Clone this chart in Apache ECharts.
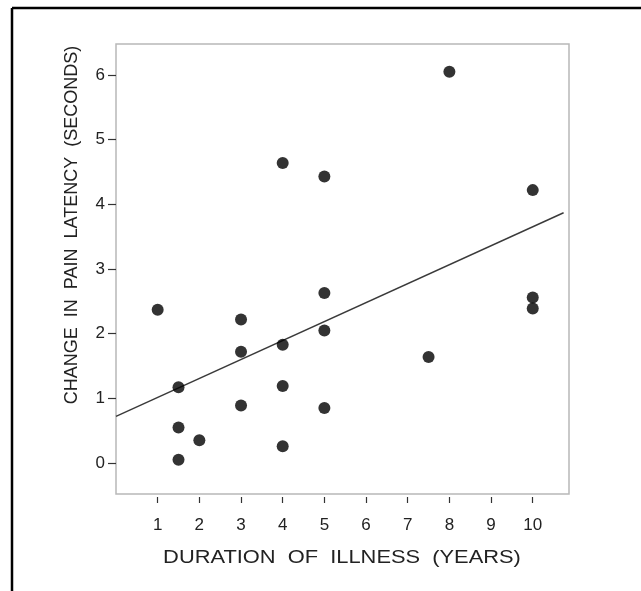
<!DOCTYPE html>
<html>
<head>
<meta charset="utf-8">
<script src="https://cdn.jsdelivr.net/npm/echarts@6/dist/echarts.min.js"></script>
<style>html,body{margin:0;padding:0;background:#fff;}#c{width:641px;height:591px;}</style>
</head>
<body>
<div id="c"></div>
<script>
// Data
var durationYears = [1, 1.5, 1.5, 1.5, 2, 3, 3, 3, 4, 4, 4, 4, 5, 5, 5, 5, 7.5, 8, 10, 10, 10];
var latencyChange = [2.37, 1.17, 0.55, 0.05, 0.35, 2.22, 1.72, 0.89, 4.64, 1.83, 1.19, 0.26, 4.43, 2.63, 2.05, 0.85, 1.64, 6.05, 4.22, 2.56, 2.39];
var fitLineX = [0, 10.74];
var fitLineY = [0.72, 3.87];
var xTicks = [1, 2, 3, 4, 5, 6, 7, 8, 9, 10];
var yTicks = [0, 1, 2, 3, 4, 5, 6];
var xTitle = 'DURATION  OF  ILLNESS  (YEARS)';
var yTitle = 'CHANGE  IN  PAIN  LATENCY  (SECONDS)';

var points = durationYears.map(function (x, i) { return [x, latencyChange[i]]; });
var fit = fitLineX.map(function (x, i) { return [x, fitLineY[i]]; });

var FONT = '"Liberation Sans", Arial, sans-serif';
var chart = echarts.init(document.getElementById('c'), null, { renderer: 'canvas' });
chart.setOption({
  backgroundColor: '#ffffff',
  animation: false,
  grid: {
    left: 116, top: 44, right: 72, bottom: 97,
    show: true, borderColor: '#b8b8b8', borderWidth: 1.5, backgroundColor: 'transparent'
  },
  xAxis: {
    type: 'value', min: 0, max: 10.87, offset: 3, position: 'bottom',
    axisLine: { show: false, onZero: false },
    splitLine: { show: false },
    axisTick: { show: true, length: 6, customValues: xTicks, lineStyle: { color: '#333', width: 1.2 } },
    axisLabel: { customValues: xTicks, margin: 20, color: '#222', fontSize: 17, fontFamily: FONT }
  },
  yAxis: {
    type: 'value', min: -0.48, max: 6.48, position: 'left',
    axisLine: { show: false, onZero: false },
    splitLine: { show: false },
    axisTick: { show: true, length: 8, customValues: yTicks, lineStyle: { color: '#333', width: 1.2 } },
    axisLabel: { customValues: yTicks, margin: 11, color: '#222', fontSize: 17, fontFamily: FONT }
  },
  series: [
    {
      type: 'line', data: fit, showSymbol: false, symbol: 'none',
      lineStyle: { color: '#3a3a3a', width: 1.4 }, z: 2
    },
    {
      type: 'scatter', data: points, symbol: 'circle', symbolSize: 12,
      itemStyle: { color: '#000' }, z: 3
    }
  ],
  graphic: [
    {
      type: 'line', shape: { x1: 12, y1: 8, x2: 641, y2: 8 },
      style: { stroke: '#000', lineWidth: 2.5 }, silent: true
    },
    {
      type: 'line', shape: { x1: 12, y1: 8, x2: 12, y2: 591 },
      style: { stroke: '#000', lineWidth: 2.5 }, silent: true
    },
    {
      type: 'text', x: 342, y: 558, scaleX: 1.15,
      style: { text: xTitle, font: '19px ' + FONT, fill: '#222', textAlign: 'center', textVerticalAlign: 'middle' }
    },
    {
      type: 'text', x: 72, y: 225, rotation: Math.PI / 2,
      style: { text: yTitle, font: '18px ' + FONT, fill: '#222', textAlign: 'center', textVerticalAlign: 'middle' }
    }
  ]
});
</script>
</body>
</html>
